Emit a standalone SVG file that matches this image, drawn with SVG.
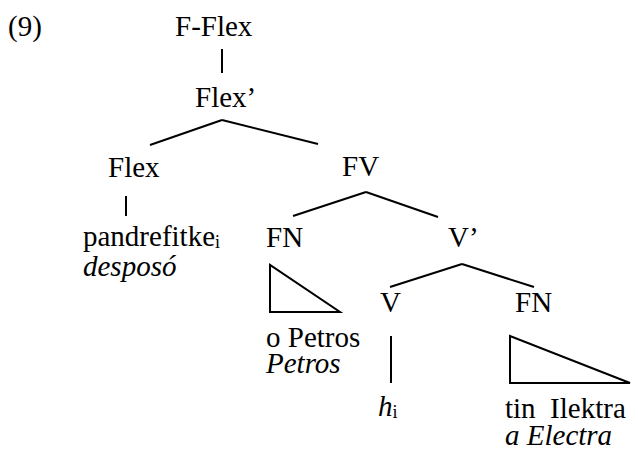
<svg xmlns="http://www.w3.org/2000/svg" width="638" height="452" viewBox="0 0 638 452">
<style>
text{font-family:"Liberation Serif","Times New Roman",serif;font-size:29px;fill:#000}
.it{font-style:italic}
.sub{font-size:18px}
.ln{stroke:#000;stroke-width:2;fill:none}
</style>
<rect width="638" height="452" fill="#fff"/>
<text x="8" y="36">(9)</text>
<g id="connectors">
<line class="ln" x1="222" y1="49" x2="222" y2="73"/>
<line class="ln" x1="222" y1="120" x2="150" y2="145"/>
<line class="ln" x1="222" y1="120" x2="318" y2="144"/>
<line class="ln" x1="126" y1="196" x2="126" y2="216"/>
<line class="ln" x1="366" y1="192" x2="293" y2="216"/>
<line class="ln" x1="366" y1="192" x2="438" y2="217"/>
<line class="ln" x1="462" y1="264" x2="390" y2="287"/>
<line class="ln" x1="462" y1="264" x2="534" y2="287"/>
<line class="ln" x1="391" y1="336" x2="391" y2="383"/>
</g>
<g id="FFlex"><text x="175" y="36">F-Flex</text></g>
<g id="FlexBar"><text x="195" y="107">Flex’</text></g>
<g id="Flex"><text x="108" y="177">Flex</text></g>
<g id="pandrefitke"><text x="83" y="246">pandrefitke<tspan class="sub" dy="2">i</tspan></text><text class="it" x="83" y="276">desposó</text></g>
<g id="FV"><text x="342" y="176">FV</text></g>
<g id="FN1"><text x="266" y="247">FN</text></g>
<g id="VBar"><text x="448" y="247">V’</text></g>
<g id="tri1"><polygon class="ln" points="270,265 270,312 340,312"/></g>
<g id="Petros"><text x="266" y="347">o Petros</text><text class="it" x="266" y="373">Petros</text></g>
<g id="V"><text x="380" y="312">V</text></g>
<g id="FN2"><text x="515" y="312">FN</text></g>
<g id="tri2"><polygon class="ln" points="510,336 510,383 630,383"/></g>
<g id="trace"><text x="378" y="416"><tspan class="it">h</tspan><tspan class="sub" dy="2">i</tspan></text></g>
<g id="Ilektra"><text x="505" y="418" xml:space="preserve">tin  Ilektra</text><text class="it" x="505" y="445">a Electra</text></g>
</svg>
